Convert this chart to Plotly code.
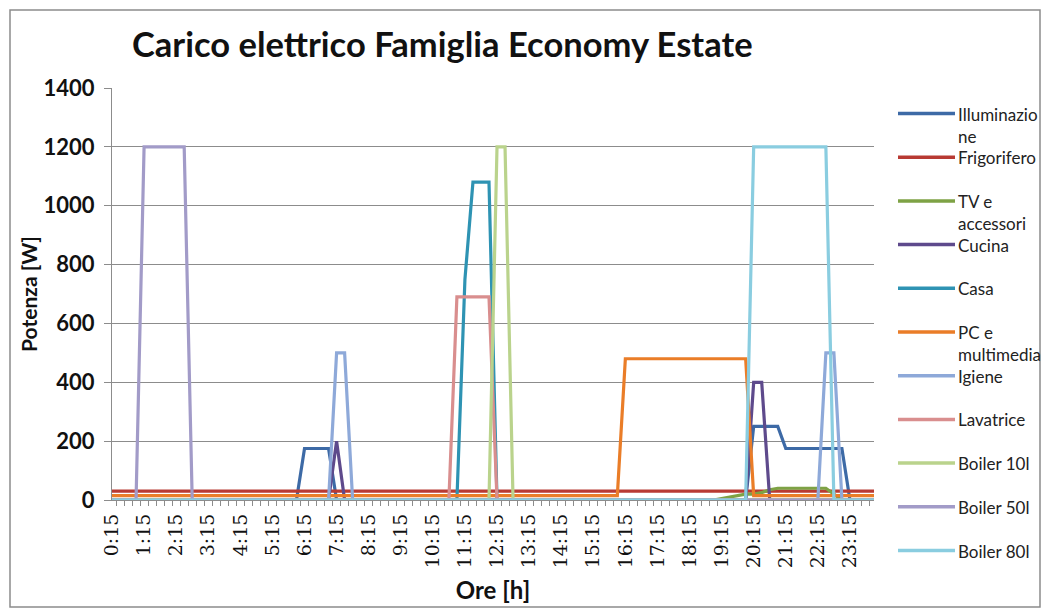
import plotly.graph_objects as go

# 15-minute time slots over one day (0:15 ... 24:00)
ore = ["0:15", "0:30", "0:45", "1:00", "1:15", "1:30", "1:45", "2:00",
       "2:15", "2:30", "2:45", "3:00", "3:15", "3:30", "3:45", "4:00",
       "4:15", "4:30", "4:45", "5:00", "5:15", "5:30", "5:45", "6:00",
       "6:15", "6:30", "6:45", "7:00", "7:15", "7:30", "7:45", "8:00",
       "8:15", "8:30", "8:45", "9:00", "9:15", "9:30", "9:45", "10:00",
       "10:15", "10:30", "10:45", "11:00", "11:15", "11:30", "11:45", "12:00",
       "12:15", "12:30", "12:45", "13:00", "13:15", "13:30", "13:45", "14:00",
       "14:15", "14:30", "14:45", "15:00", "15:15", "15:30", "15:45", "16:00",
       "16:15", "16:30", "16:45", "17:00", "17:15", "17:30", "17:45", "18:00",
       "18:15", "18:30", "18:45", "19:00", "19:15", "19:30", "19:45", "20:00",
       "20:15", "20:30", "20:45", "21:00", "21:15", "21:30", "21:45", "22:00",
       "22:15", "22:30", "22:45", "23:00", "23:15", "23:30", "23:45", "24:00"]

# Power draw [W] per appliance group, one value per slot (rows = 4 hours)
illuminazione = [0, 0, 0, 0, 0, 0, 0, 0, 0, 0, 0, 0, 0, 0, 0, 0,
                 0, 0, 0, 0, 0, 0, 0, 0, 175, 175, 175, 175, 0, 0, 0, 0,
                 0, 0, 0, 0, 0, 0, 0, 0, 0, 0, 0, 0, 0, 0, 0, 0,
                 0, 0, 0, 0, 0, 0, 0, 0, 0, 0, 0, 0, 0, 0, 0, 0,
                 0, 0, 0, 0, 0, 0, 0, 0, 0, 0, 0, 0, 0, 0, 0, 0,
                 250, 250, 250, 250, 175, 175, 175, 175, 175, 175, 175, 175, 0, 0, 0, 0]
frigorifero = [30, 30, 30, 30, 30, 30, 30, 30, 30, 30, 30, 30, 30, 30, 30, 30,
               30, 30, 30, 30, 30, 30, 30, 30, 30, 30, 30, 30, 30, 30, 30, 30,
               30, 30, 30, 30, 30, 30, 30, 30, 30, 30, 30, 30, 30, 30, 30, 30,
               30, 30, 30, 30, 30, 30, 30, 30, 30, 30, 30, 30, 30, 30, 30, 30,
               30, 30, 30, 30, 30, 30, 30, 30, 30, 30, 30, 30, 30, 30, 30, 30,
               30, 30, 30, 30, 30, 30, 30, 30, 30, 30, 30, 30, 30, 30, 30, 30]
tv_accessori = [0, 0, 0, 0, 0, 0, 0, 0, 0, 0, 0, 0, 0, 0, 0, 0,
                0, 0, 0, 0, 0, 0, 0, 0, 0, 0, 0, 0, 0, 0, 0, 0,
                0, 0, 0, 0, 0, 0, 0, 0, 0, 0, 0, 0, 0, 0, 0, 0,
                0, 0, 0, 0, 0, 0, 0, 0, 0, 0, 0, 0, 0, 0, 0, 0,
                0, 0, 0, 0, 0, 0, 0, 0, 0, 0, 0, 0, 5, 10, 15, 20,
                20, 25, 35, 40, 40, 40, 40, 40, 40, 40, 20, 0, 0, 0, 0, 0]
cucina = [0, 0, 0, 0, 0, 0, 0, 0, 0, 0, 0, 0, 0, 0, 0, 0,
          0, 0, 0, 0, 0, 0, 0, 0, 0, 0, 0, 0, 200, 0, 0, 0,
          0, 0, 0, 0, 0, 0, 0, 0, 0, 0, 0, 0, 0, 0, 0, 0,
          0, 0, 0, 0, 0, 0, 0, 0, 0, 0, 0, 0, 0, 0, 0, 0,
          0, 0, 0, 0, 0, 0, 0, 0, 0, 0, 0, 0, 0, 0, 0, 0,
          400, 400, 0, 0, 0, 0, 0, 0, 0, 0, 0, 0, 0, 0, 0, 0]
casa = [0, 0, 0, 0, 0, 0, 0, 0, 0, 0, 0, 0, 0, 0, 0, 0,
        0, 0, 0, 0, 0, 0, 0, 0, 0, 0, 0, 0, 0, 0, 0, 0,
        0, 0, 0, 0, 0, 0, 0, 0, 0, 0, 0, 0, 750, 1080, 1080, 1080,
        0, 0, 0, 0, 0, 0, 0, 0, 0, 0, 0, 0, 0, 0, 0, 0,
        0, 0, 0, 0, 0, 0, 0, 0, 0, 0, 0, 0, 0, 0, 0, 0,
        0, 0, 0, 0, 0, 0, 0, 0, 0, 0, 0, 0, 0, 0, 0, 0]
pc_multimedia = [15, 15, 15, 15, 15, 15, 15, 15, 15, 15, 15, 15, 15, 15, 15, 15,
                 15, 15, 15, 15, 15, 15, 15, 15, 15, 15, 15, 15, 15, 15, 15, 15,
                 15, 15, 15, 15, 15, 15, 15, 15, 15, 15, 15, 15, 15, 15, 15, 15,
                 15, 15, 15, 15, 15, 15, 15, 15, 15, 15, 15, 15, 15, 15, 15, 15,
                 480, 480, 480, 480, 480, 480, 480, 480, 480, 480, 480, 480, 480, 480, 480, 480,
                 15, 15, 15, 15, 15, 15, 15, 15, 15, 15, 15, 15, 15, 15, 15, 15]
igiene = [0, 0, 0, 0, 0, 0, 0, 0, 0, 0, 0, 0, 0, 0, 0, 0,
          0, 0, 0, 0, 0, 0, 0, 0, 0, 0, 0, 0, 500, 500, 0, 0,
          0, 0, 0, 0, 0, 0, 0, 0, 0, 0, 0, 0, 0, 0, 0, 0,
          0, 0, 0, 0, 0, 0, 0, 0, 0, 0, 0, 0, 0, 0, 0, 0,
          0, 0, 0, 0, 0, 0, 0, 0, 0, 0, 0, 0, 0, 0, 0, 0,
          0, 0, 0, 0, 0, 0, 0, 0, 0, 500, 500, 0, 0, 0, 0, 0]
lavatrice = [0, 0, 0, 0, 0, 0, 0, 0, 0, 0, 0, 0, 0, 0, 0, 0,
             0, 0, 0, 0, 0, 0, 0, 0, 0, 0, 0, 0, 0, 0, 0, 0,
             0, 0, 0, 0, 0, 0, 0, 0, 0, 0, 0, 690, 690, 690, 690, 690,
             0, 0, 0, 0, 0, 0, 0, 0, 0, 0, 0, 0, 0, 0, 0, 0,
             0, 0, 0, 0, 0, 0, 0, 0, 0, 0, 0, 0, 0, 0, 0, 0,
             0, 0, 0, 0, 0, 0, 0, 0, 0, 0, 0, 0, 0, 0, 0, 0]
boiler_10l = [0, 0, 0, 0, 0, 0, 0, 0, 0, 0, 0, 0, 0, 0, 0, 0,
              0, 0, 0, 0, 0, 0, 0, 0, 0, 0, 0, 0, 0, 0, 0, 0,
              0, 0, 0, 0, 0, 0, 0, 0, 0, 0, 0, 0, 0, 0, 0, 0,
              1200, 1200, 0, 0, 0, 0, 0, 0, 0, 0, 0, 0, 0, 0, 0, 0,
              0, 0, 0, 0, 0, 0, 0, 0, 0, 0, 0, 0, 0, 0, 0, 0,
              0, 0, 0, 0, 0, 0, 0, 0, 0, 0, 0, 0, 0, 0, 0, 0]
boiler_50l = [0, 0, 0, 0, 1200, 1200, 1200, 1200, 1200, 1200, 0, 0, 0, 0, 0, 0,
              0, 0, 0, 0, 0, 0, 0, 0, 0, 0, 0, 0, 0, 0, 0, 0,
              0, 0, 0, 0, 0, 0, 0, 0, 0, 0, 0, 0, 0, 0, 0, 0,
              0, 0, 0, 0, 0, 0, 0, 0, 0, 0, 0, 0, 0, 0, 0, 0,
              0, 0, 0, 0, 0, 0, 0, 0, 0, 0, 0, 0, 0, 0, 0, 0,
              0, 0, 0, 0, 0, 0, 0, 0, 0, 0, 0, 0, 0, 0, 0, 0]
boiler_80l = [0, 0, 0, 0, 0, 0, 0, 0, 0, 0, 0, 0, 0, 0, 0, 0,
              0, 0, 0, 0, 0, 0, 0, 0, 0, 0, 0, 0, 0, 0, 0, 0,
              0, 0, 0, 0, 0, 0, 0, 0, 0, 0, 0, 0, 0, 0, 0, 0,
              0, 0, 0, 0, 0, 0, 0, 0, 0, 0, 0, 0, 0, 0, 0, 0,
              0, 0, 0, 0, 0, 0, 0, 0, 0, 0, 0, 0, 0, 0, 0, 0,
              1200, 1200, 1200, 1200, 1200, 1200, 1200, 1200, 1200, 1200, 0, 0, 0, 0, 0, 0]

series_names = ["Illuminazio<br>ne", "Frigorifero", "TV e<br>accessori", "Cucina", "Casa",
                "PC e<br>multimedia", "Igiene", "Lavatrice", "Boiler 10l", "Boiler 50l",
                "Boiler 80l"]
series_values = [illuminazione, frigorifero, tv_accessori, cucina, casa,
                 pc_multimedia, igiene, lavatrice, boiler_10l, boiler_50l, boiler_80l]
series_colors = ["#3D6AA6", "#B83A33", "#7EA245", "#5E4A8C", "#2E93B3", "#EA7D28",
                 "#8EA9D9", "#D98E8E", "#BAD38C", "#A29BC8", "#8ACDE0"]

# hour labels every 4th slot, blank elsewhere
tick_text = [t if i % 4 == 0 else "" for i, t in enumerate(ore)]

# plot-area geometry in pixels (used for the side legend)
L, R, T, B = 112, 874, 88, 500


def px_x(X):
    return (X - L) / (R - L)


def px_y(Y):
    return (B - Y) / (B - T)


fig = go.Figure()
for name, vals, col in zip(series_names, series_values, series_colors):
    fig.add_trace(go.Scatter(
        x=ore, y=vals, mode="lines", name=name.replace("<br>", " "),
        line=dict(color=col, width=3.2), showlegend=False,
    ))

# side legend: sample line + wrapped label, evenly spaced
shapes = []
annotations = []
for i, (name, col) in enumerate(zip(series_names, series_colors)):
    yc = 113.5 + i * 43.7
    shapes.append(dict(type="line", xref="paper", yref="paper",
                       x0=px_x(898), x1=px_x(955), y0=px_y(yc), y1=px_y(yc),
                       line=dict(color=col, width=3.5)))
    annotations.append(dict(xref="paper", yref="paper", x=px_x(956), y=px_y(yc - 12),
                            xanchor="left", yanchor="top", align="left", showarrow=False,
                            text=name, font=dict(family="Lato", size=17, color="#222222")))

# outer chart frame
shapes.append(dict(type="rect", xref="paper", yref="paper", layer="below",
                   x0=px_x(10), x1=px_x(1040), y0=px_y(607), y1=px_y(10),
                   line=dict(color="#8C8C8C", width=1.5)))

fig.update_layout(
    width=1049, height=610,
    margin=dict(l=L, r=1049 - R, t=T, b=610 - B),
    paper_bgcolor="white", plot_bgcolor="white",
    title=dict(text="<b>Carico elettrico Famiglia Economy Estate</b>",
               x=px_x(132), xref="paper", xanchor="left",
               y=1 - 45 / 610, yref="container", yanchor="middle",
               font=dict(family="Lato", size=34.5, color="#111111")),
    shapes=shapes, annotations=annotations,
    showlegend=False,
)

fig.update_xaxes(
    type="category", categoryorder="array", categoryarray=ore,
    tickmode="array", tickvals=ore, ticktext=tick_text,
    tickson="boundaries", ticks="outside", ticklen=5, tickcolor="#8C8C8C",
    tickangle=-90, ticklabelstandoff=5,
    tickfont=dict(family="DejaVu Serif", size=19, color="#111111"),
    showline=True, linecolor="#8C8C8C", linewidth=1, showgrid=False,
    title=dict(text="<b>Ore [h]</b>", font=dict(family="Lato", size=24, color="#111111"),
               standoff=14),
)
fig.update_yaxes(
    range=[0, 1400], dtick=200, tick0=0,
    ticks="outside", ticklen=7, tickcolor="#8C8C8C", ticklabelstandoff=5,
    tickfont=dict(family="Lato", size=22, color="#111111", weight="bold"),
    showline=True, linecolor="#8C8C8C", linewidth=1,
    showgrid=True, gridcolor="#8C8C8C", gridwidth=1, zeroline=False,
    title=dict(text="<b>Potenza [W]</b>", font=dict(family="Lato", size=21, color="#111111"),
               standoff=0),
)

fig.write_html("out.html")
